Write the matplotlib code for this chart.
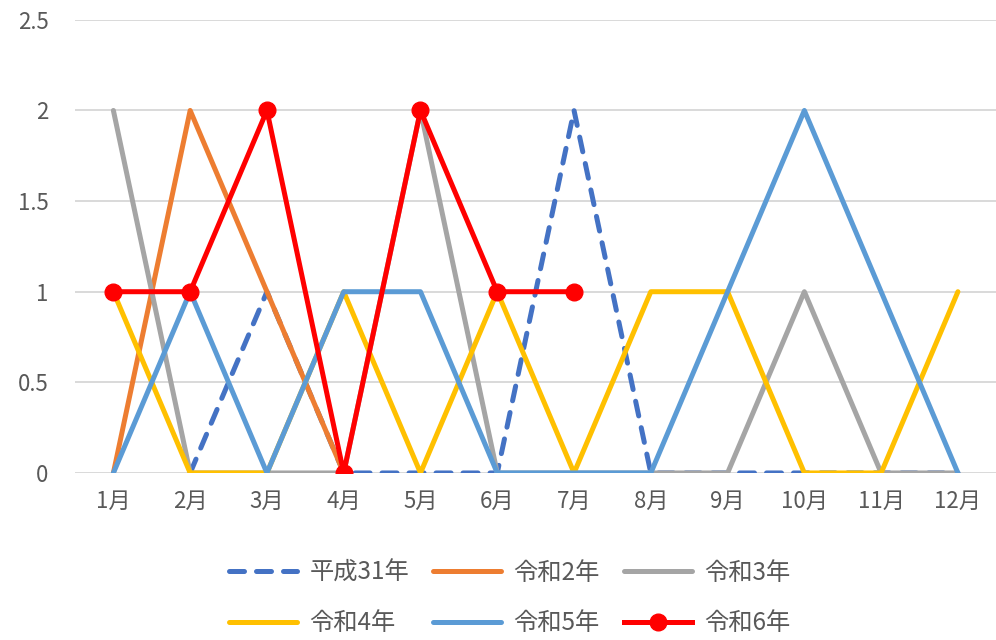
import matplotlib.pyplot as plt

plt.rcParams['font.family'] = ['Noto Sans CJK JP', 'DejaVu Sans']

months = ['1月', '2月', '3月', '4月', '5月', '6月', '7月', '8月', '9月', '10月', '11月', '12月']
names = ['平成31年', '令和2年', '令和3年', '令和4年', '令和5年', '令和6年']

nan = float('nan')
h31 = [nan, 0, 1, 0, 0, 0, 2, 0, 0, 0, 0, 0]
r2 = [0, 2, 1, 0, nan, nan, nan, nan, nan, nan, nan, nan]
r3 = [2, 0, 0, 0, 2, 0, 0, 0, 0, 1, 0, 0]
r4 = [1, 0, 0, 1, 0, 1, 0, 1, 1, 0, 0, 1]
r5 = [0, 1, 0, 1, 1, 0, 0, 0, 1, 2, 1, 0]
r6 = [1, 1, 2, 0, 2, 1, 1]

colors = ['#4472C4', '#ED7D31', '#A5A5A5', '#FFC000', '#5B9BD5', '#FF0000']

fig = plt.figure(figsize=(9.96, 6.4), dpi=100)
ax = fig.add_axes([0.0753, 0.261, 0.925, 0.708])

x = list(range(len(months)))
lw = 3.6
lines = []
lines += ax.plot(x, h31, color=colors[0], lw=lw, linestyle=(0, (3, 2.4)),
                 dash_capstyle='round', solid_joinstyle='round', label=names[0])
for vals, c, n in zip([r2, r3, r4, r5], colors[1:5], names[1:5]):
    lines += ax.plot(x, vals, color=c, lw=lw, solid_joinstyle='round',
                     solid_capstyle='round', label=n)
lines += ax.plot(x[:len(r6)], r6, color=colors[5], lw=lw, marker='o',
                 markersize=12, solid_joinstyle='round', label=names[5])

ax.set_xlim(-0.5, len(months) - 0.5)
ax.set_ylim(0, 2.5)
ax.set_yticks([0, 0.5, 1, 1.5, 2, 2.5])
ax.set_yticklabels(['0', '0.5', '1', '1.5', '2', '2.5'])
ax.set_xticks(x)
ax.set_xticklabels(months)
ax.grid(axis='y', color='#D9D9D9', lw=1.4)
ax.set_axisbelow(True)
for s in ax.spines.values():
    s.set_visible(False)
ax.tick_params(length=0, labelsize=16, colors='#595959')
ax.tick_params(axis='x', pad=12)
ax.tick_params(axis='y', pad=19)

# legend filled row by row: reorder handles for matplotlib's column-major fill
order = [0, 3, 1, 4, 2, 5]
fig.legend([lines[i] for i in order], [names[i] for i in order],
           loc='lower center', bbox_to_anchor=(0.512, -0.028), ncol=3,
           frameon=False, fontsize=17.5, handlelength=2.8, columnspacing=1.0,
           labelspacing=1.0, handletextpad=0.5, labelcolor='#595959')

fig.savefig('out.png', dpi=100)
